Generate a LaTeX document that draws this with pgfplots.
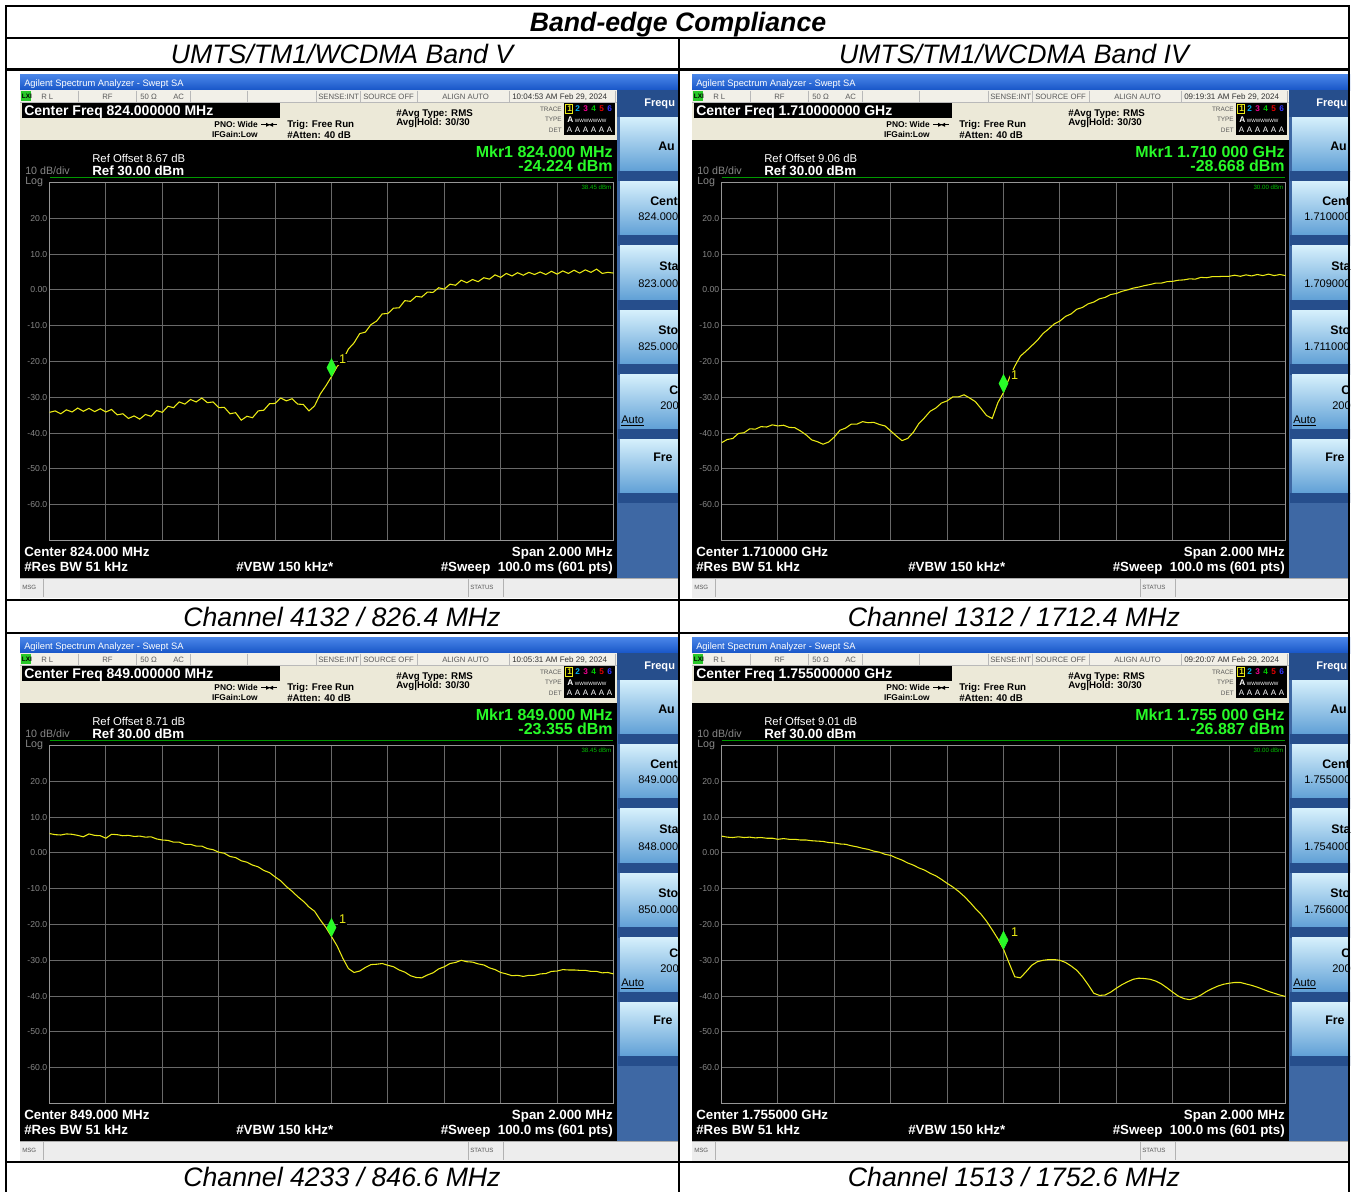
\documentclass[border=0pt]{standalone}
\usepackage{pgfplots}
\pgfplotsset{compat=1.18}
\usepackage{fontspec}
\setmainfont{Liberation Sans}

\definecolor{tbA}{RGB}{74,134,232}
\definecolor{tbB}{RGB}{24,86,200}
\definecolor{beige}{RGB}{236,233,216}
\definecolor{stat}{RGB}{242,240,232}
\definecolor{stxt}{RGB}{90,90,90}
\definecolor{lxi}{RGB}{40,200,40}
\definecolor{skdark}{RGB}{38,78,140}
\definecolor{skmid}{RGB}{62,104,164}
\definecolor{skA}{RGB}{214,240,252}
\definecolor{skB}{RGB}{150,206,238}
\definecolor{skC}{RGB}{96,160,214}
\definecolor{mgreen}{RGB}{40,250,40}
\definecolor{trc}{RGB}{235,235,20}
\definecolor{grd}{RGB}{105,105,105}
\definecolor{grdb}{RGB}{150,150,150}
\definecolor{lbl}{RGB}{135,135,135}

\newcommand\fz[1]{\fontsize{#1}{#1}\selectfont}

% marker diamond, bottom tip on the point
\pgfdeclareplotmark{mkr}{%
  \pgfpathmoveto{\pgfqpoint{0pt}{0pt}}%
  \pgfpathlineto{\pgfqpoint{3.4pt}{6.75pt}}%
  \pgfpathlineto{\pgfqpoint{0pt}{13.5pt}}%
  \pgfpathlineto{\pgfqpoint{-3.4pt}{6.75pt}}%
  \pgfpathclose\pgfusepathqfillstroke}

\tikzset{txt/.style={anchor=base west, inner sep=0pt},
         txr/.style={anchor=base east, inner sep=0pt}}

\pgfplotsset{scr/.style={anchor=north west, scale only axis,
    width=423pt, height=268.5pt,
    xmin=0, xmax=10, ymin=-70, ymax=30,
    xtick={0,1,...,10}, ytick={-60,-50,...,20},
    xticklabels={,,,,,,,,,,},
    yticklabels={-60.0,-50.0,-40.0,-30.0,-20.0,-10.0,0.00,10.0,20.0},
    major tick length=0pt, grid=major,
    major grid style={grd, line width=0.7pt},
    axis line style={grdb, line width=1.4pt},
    yticklabel style={font=\fz{6.5}, text=lbl, inner sep=0pt, xshift=-1.5pt},
  },
  trace/.style={trc, line width=0.8pt, mark=none},
  marker/.style={only marks, mark=mkr, mgreen, nodes near coords={1},
    every node near coord/.append style={anchor=base west, text=trc,
      font=\fz{9.5}, inner sep=0.6pt, fill=black, xshift=5pt, yshift=9.5pt}},
}

% screen furniture of one analyser screenshot, offset (#1,#2) px
\newcommand\chrome[2]{%
\begin{scope}[shift={(#1,-#2)}]
\begin{scope}
\clip (20,-74.5) rectangle (678,-597.5);
\shade[top color=tbA, bottom color=tbB] (20,-74.5) rectangle (678,-90);
\node[txt, text=white, font=\fz{7}] at (24,-86) {Agilent Spectrum Analyzer - Swept SA};
\fill[beige] (20,-90) rectangle (617,-140);
\fill[stat] (20,-90) rectangle (617,-102);
\foreach \s in {78,136.6,190.8,247,316.6,360,417,509.5,615.8}
  {\draw[gray!55, line width=0.6] (\s,-90.5) -- (\s,-102);}
\draw[gray!55, line width=0.6] (20,-102) -- (617,-102);
\fill[lxi] (21,-90.5) rectangle (31,-101);
\node[txt, font=\bfseries\fz{4.8}] at (21.6,-98.6) {LXI};
\begin{scope}[every node/.style={txt, text=stxt, font=\fz{5.8}}]
\node at (41,-99) {R L};
\node at (102,-99) {RF};
\node at (140,-99) {50 Ω};
\node at (173,-99) {AC};
\node at (318,-99) {SENSE:INT};
\node at (363,-99) {SOURCE OFF};
\node at (442,-99) {ALIGN AUTO};
\node[text=black!80, font=\fz{6}] at (512,-99) {\kTM};
\end{scope}
\fill[black] (22,-103) rectangle (280,-117.5);
\node[txt, text=white, font=\bfseries\fz{10.5}] at (24,-115.5) {Center Freq \kCF};
\begin{scope}[every node/.style={font=\bfseries\fz{6.3}, inner sep=0pt}]
\node[txr] at (258,-127.5) {PNO: Wide};
\node[txr] at (258,-137.5) {IFGain:Low};
\end{scope}
\draw[line width=0.6] (261,-124.8) -- (277,-124.8);
\fill (266,-122.8) -- (270,-124.8) -- (266,-126.8) -- cycle;
\fill (273,-122.8) -- (269,-124.8) -- (273,-126.8) -- cycle;
\begin{scope}[every node/.style={txt, font=\bfseries\fz{7.3}}]
\node at (287,-127.5) {Trig: Free Run};
\node at (287,-138) {\#Atten: 40 dB};
\node at (396,-116) {\#Avg Type: RMS};
\node at (396,-125.5) {Avg|Hold: 30/30};
\end{scope}
\begin{scope}[every node/.style={txr, text=stxt, font=\fz{4.8}}]
\node at (562,-111) {TRACE};
\node at (562,-121.5) {TYPE};
\node at (562,-132) {DET};
\end{scope}
\fill[black] (564,-103) rectangle (615,-135);
\draw[trc, line width=0.5] (565.5,-104) rectangle (572.5,-113);
\begin{scope}[every node/.style={txt, font=\bfseries\fz{6.2}}]
\node[text=trc] at (567,-111.5) {1};
\node[text=cyan] at (575,-111.5) {2};
\node[text=magenta] at (583,-111.5) {3};
\node[text=green!80!black] at (591,-111.5) {4};
\node[text=red!90!black] at (599,-111.5) {5};
\node[text=blue!80!white] at (607,-111.5) {6};
\node[text=white] at (567,-122) {A};
\node[text=white, font=\fz{3.6}] at (574.5,-122) {WWWWWWW};
\end{scope}
\foreach \a in {0,...,5}
  {\node[txt, text=white, font=\fz{6}] at ({566.5+8*\a},-132.5) {A};}
\fill[black] (20,-140) rectangle (617,-578);
\node[txt, text=white, font=\fz{8.5}] at (92,-162.5) {Ref Offset \kRO\ dB};
\node[txt, text=lbl, font=\fz{8}] at (25,-174.5) {10 dB/div};
\node[txt, text=white, font=\bfseries\fz{10}] at (92,-175.5) {Ref 30.00 dBm};
\node[txt, text=lbl, font=\fz{8}] at (25,-184.5) {Log};
\draw[green!60!black, line width=1.2] (49.5,-177.3) -- (613.4,-177.3);
\node[txr, text=mgreen, font=\bfseries\fz{12}] at (613,-157) {Mkr1 \kMF};
\node[txr, text=mgreen, font=\bfseries\fz{12}] at (613,-171.5) {\kMV\ dBm};
\node[txr, text=green!75!black, font=\fz{4.6}] at (611.5,-189) {\kDL};
\begin{scope}[every node/.style={font=\bfseries\fz{10}, text=white, inner sep=0pt}]
\node[txt] at (24,-556.5) {Center \kBC};
\node[txt] at (24,-571) {\#Res BW 51 kHz};
\node[txt] at (236,-571) {\#VBW 150 kHz*};
\node[txr] at (613,-556.5) {Span 2.000 MHz};
\node[txr] at (613,-571) {\#Sweep\ \ 100.0 ms (601 pts)};
\end{scope}
% softkeys (only their visible left parts show in the screenshot)
\fill[skmid] (617,-90) rectangle (678,-578);
\fill[skdark] (617,-90) rectangle (678,-117);
\foreach \i in {0,...,5}{%
  \shade[top color=skA, middle color=skB, bottom color=skC]
     (620,{-117-64.4*\i}) rectangle (720,{-171-64.4*\i});
  \fill[skdark] (618,{-171-64.4*\i}) rectangle (720,{-181.4-64.4*\i});
}
\node[txt, text=white, font=\bfseries\fz{8.3}] at (644,-106) {Frequ};
\begin{scope}[every node/.style={txt, font=\bfseries\fz{9.3}}]
\node at (658,-150) {Au};
\node at (650,-205.5) {Cent};
\node at (659,-270.5) {Sta};
\node at (658,-334) {Sto};
\node at (669,-394) {C};
\node at (653,-461) {Fre};
\end{scope}
\begin{scope}[every node/.style={txt, font=\fz{8.3}}]
\node at (\kSX,-220) {\kSC};
\node at (\kSX,-287) {\kSS};
\node at (\kSX,-350) {\kSP};
\node at (660,-409) {200};
\node at (621,-423) {\underline{Auto}};
\end{scope}
% message bar
\fill[gray!14] (20,-578) rectangle (678,-597.5);
\draw[gray!65, line width=0.8] (20,-578.5) -- (678,-578.5);
\foreach \s in {43,468,503}{\draw[gray!60, line width=0.6] (\s,-579) -- (\s,-597);}
\node[txt, text=stxt, font=\fz{4.6}] at (22,-589.5) {MSG};
\node[txt, text=stxt, font=\fz{4.6}] at (470,-589.5) {STATUS};
\end{scope}
\end{scope}}

\begin{document}
\begin{tikzpicture}[x=0.75pt, y=0.75pt]
\clip (0,0) rectangle (1354,-1192);
\fill[white] (0,0) rectangle (1354,-1192);
\coordinate (g1) at (49.5,-182.5);
\coordinate (g2) at (721.5,-182.5);
\coordinate (g3) at (49.5,-745.5);
\coordinate (g4) at (721.5,-745.5);

% ---------- Band V, channel 4132 ----------
\def\kCF{824.000000 MHz}\def\kTM{10:04:53 AM Feb 29, 2024}\def\kRO{8.67}
\def\kMF{824.000 MHz}\def\kMV{-24.224}\def\kDL{38.45 dBm}
\def\kSC{824.000}\def\kSS{823.000}\def\kSP{825.000}
\def\kBC{824.000 MHz}\def\kSX{638}
\chrome{0}{0}
\begin{axis}[scr, at={(g1)}]
\addplot[trace] coordinates {
(0,-34.2)(0.1,-33.8)(0.2,-34.6)(0.3,-33.5)(0.4,-34.1)(0.5,-33.0)(0.6,-33.9)(0.7,-33.1)(0.8,-34.0)(0.9,-33.2)
(1,-34.1)(1.1,-33.4)(1.2,-34.9)(1.3,-34.6)(1.4,-35.9)(1.5,-35.2)(1.6,-36.1)(1.7,-34.8)(1.8,-35.3)(1.9,-33.7)
(2,-34.2)(2.1,-32.5)(2.2,-32.9)(2.3,-31.3)(2.4,-31.9)(2.5,-30.6)(2.6,-31.3)(2.7,-30.2)(2.8,-31.5)(2.9,-31.3)
(3,-32.9)(3.1,-32.8)(3.2,-34.6)(3.3,-34.3)(3.4,-36.4)(3.5,-35.3)(3.6,-35.7)(3.7,-33.8)(3.8,-33.6)(3.9,-31.8)
(4,-31.7)(4.1,-30.2)(4.2,-31.0)(4.3,-30.4)(4.4,-31.9)(4.5,-32.0)(4.6,-33.8)(4.7,-32.4)(4.8,-29.1)(4.9,-26.8)
(5,-24.224)(5.1,-21.4)(5.2,-19.7)(5.3,-16.5)(5.4,-14.8)(5.5,-12.2)(5.6,-11.8)(5.7,-9.7)(5.8,-8.7)(5.9,-6.7)
(6,-6.6)(6.1,-5.1)(6.2,-5.0)(6.3,-3.0)(6.4,-3.2)(6.5,-1.8)(6.6,-2.0)(6.7,-0.6)(6.8,-0.7)(6.9,0.6)
(7,0.2)(7.1,1.6)(7.2,1.3)(7.3,2.7)(7.4,2.0)(7.5,2.9)(7.6,2.3)(7.7,3.4)(7.8,3.0)(7.9,4.2)
(8,3.5)(8.1,4.6)(8.2,3.9)(8.3,4.8)(8.4,4.1)(8.5,4.9)(8.6,4.3)(8.7,5.0)(8.8,4.3)(8.9,5.2)
(9,4.4)(9.1,5.3)(9.2,4.6)(9.3,5.5)(9.4,4.7)(9.5,5.6)(9.6,4.9)(9.7,5.8)(9.8,4.6)(9.9,4.9)(10,4.7)};
\addplot[marker] coordinates {(5,-24.224)};
\end{axis}

% ---------- Band IV, channel 1312 ----------
\def\kCF{1.710000000 GHz}\def\kTM{09:19:31 AM Feb 29, 2024}\def\kRO{9.06}
\def\kMF{1.710 000 GHz}\def\kMV{-28.668}\def\kDL{30.00 dBm}
\def\kSC{1.710000}\def\kSS{1.709000}\def\kSP{1.711000}
\def\kBC{1.710000 GHz}\def\kSX{632}
\chrome{672}{0}
\begin{axis}[scr, at={(g2)}]
\addplot[trace] coordinates {
(0,-42.7)(0.1,-41.8)(0.2,-41.5)(0.3,-40.1)(0.4,-39.9)(0.5,-38.8)(0.6,-38.9)(0.7,-38.2)(0.8,-38.3)(0.9,-37.7)
(1,-38.0)(1.1,-37.8)(1.2,-38.4)(1.3,-38.5)(1.4,-39.4)(1.5,-40.5)(1.6,-41.9)(1.7,-42.4)(1.8,-43.1)(1.9,-42.5)
(2,-41.1)(2.1,-39.2)(2.2,-38.6)(2.3,-37.5)(2.4,-37.5)(2.5,-36.8)(2.6,-37.1)(2.7,-37.0)(2.8,-37.6)(2.9,-38.0)
(3,-39.4)(3.1,-40.8)(3.2,-42.1)(3.3,-41.5)(3.4,-39.8)(3.5,-37.3)(3.6,-35.7)(3.7,-33.9)(3.8,-33.0)(3.9,-31.6)
(4,-31.0)(4.1,-29.9)(4.2,-29.9)(4.3,-29.3)(4.4,-30.2)(4.5,-31.2)(4.6,-33.1)(4.7,-35.1)(4.8,-35.9)(4.9,-31.5)
(5,-28.668)(5.1,-24.7)(5.2,-21.3)(5.3,-18.5)(5.4,-17.1)(5.5,-15.6)(5.6,-14.1)(5.7,-12.2)(5.8,-10.9)(5.9,-9.5)
(6,-8.7)(6.1,-7.4)(6.2,-6.7)(6.3,-5.4)(6.4,-4.9)(6.5,-3.9)(6.6,-3.4)(6.7,-2.5)(6.8,-2.1)(6.9,-1.3)
(7,-1.0)(7.1,-0.4)(7.2,0.0)(7.3,0.5)(7.4,0.8)(7.5,1.2)(7.6,1.5)(7.7,1.9)(7.8,1.9)(7.9,2.3)
(8,2.4)(8.1,2.7)(8.2,2.8)(8.3,3.1)(8.4,3.0)(8.5,3.5)(8.6,3.4)(8.7,3.7)(8.8,3.7)(8.9,3.8)
(9,3.8)(9.1,4.1)(9.2,3.8)(9.3,4.2)(9.4,3.9)(9.5,4.3)(9.6,4.0)(9.7,4.4)(9.8,4.0)(9.9,4.3)(10,4.0)};
\addplot[marker] coordinates {(5,-28.668)};
\end{axis}

% ---------- Band V, channel 4233 ----------
\def\kCF{849.000000 MHz}\def\kTM{10:05:31 AM Feb 29, 2024}\def\kRO{8.71}
\def\kMF{849.000 MHz}\def\kMV{-23.355}\def\kDL{38.45 dBm}
\def\kSC{849.000}\def\kSS{848.000}\def\kSP{850.000}
\def\kBC{849.000 MHz}\def\kSX{638}
\chrome{0}{563}
\begin{axis}[scr, at={(g3)}]
\addplot[trace] coordinates {
(0,5.4)(0.1,5.1)(0.2,5.0)(0.3,5.3)(0.4,5.2)(0.5,4.9)(0.6,4.5)(0.7,5.3)(0.8,4.9)(0.9,4.8)
(1,4.1)(1.1,5.2)(1.2,5.1)(1.3,4.8)(1.4,4.9)(1.5,4.6)(1.6,4.7)(1.7,4.4)(1.8,4.5)(1.9,3.9)
(2,3.6)(2.1,3.5)(2.2,3.0)(2.3,3.0)(2.4,2.4)(2.5,2.4)(2.6,1.9)(2.7,1.9)(2.8,1.2)(2.9,0.9)
(3,0.2)(3.1,-0.1)(3.2,-1.0)(3.3,-1.3)(3.4,-2.2)(3.5,-2.6)(3.6,-3.4)(3.7,-3.9)(3.8,-4.9)(3.9,-5.5)
(4,-6.7)(4.1,-7.8)(4.2,-9.4)(4.3,-10.7)(4.4,-12.2)(4.5,-13.5)(4.6,-15.1)(4.7,-16.3)(4.8,-18.7)(4.9,-20.8)
(5,-23.355)(5.1,-26.0)(5.2,-29.4)(5.3,-32.3)(5.4,-33.4)(5.5,-33.0)(5.6,-32.0)(5.7,-31.2)(5.8,-31.1)(5.9,-30.9)
(6,-31.4)(6.1,-31.8)(6.2,-32.7)(6.3,-33.3)(6.4,-34.3)(6.5,-34.8)(6.6,-34.9)(6.7,-34.1)(6.8,-33.5)(6.9,-32.4)
(7,-31.8)(7.1,-30.9)(7.2,-30.6)(7.3,-30.0)(7.4,-30.4)(7.5,-30.5)(7.6,-31.0)(7.7,-31.3)(7.8,-32.1)(7.9,-32.6)
(8,-33.4)(8.1,-33.8)(8.2,-34.3)(8.3,-34.2)(8.4,-34.5)(8.5,-34.2)(8.6,-34.2)(8.7,-33.8)(8.8,-33.7)(8.9,-33.1)
(9,-33.0)(9.1,-32.6)(9.2,-32.7)(9.3,-32.7)(9.4,-32.8)(9.5,-32.8)(9.6,-33.1)(9.7,-33.1)(9.8,-33.5)(9.9,-33.4)(10,-33.8)};
\addplot[marker] coordinates {(5,-23.355)};
\end{axis}

% ---------- Band IV, channel 1513 ----------
\def\kCF{1.755000000 GHz}\def\kTM{09:20:07 AM Feb 29, 2024}\def\kRO{9.01}
\def\kMF{1.755 000 GHz}\def\kMV{-26.887}\def\kDL{30.00 dBm}
\def\kSC{1.755000}\def\kSS{1.754000}\def\kSP{1.756000}
\def\kBC{1.755000 GHz}\def\kSX{632}
\chrome{672}{563}
\begin{axis}[scr, at={(g4)}]
\addplot[trace] coordinates {
(0,4.7)(0.1,4.4)(0.2,4.3)(0.3,4.5)(0.4,4.3)(0.5,4.4)(0.6,4.2)(0.7,4.3)(0.8,4.1)(0.9,4.1)
(1,3.8)(1.1,4.0)(1.2,3.8)(1.3,3.8)(1.4,3.6)(1.5,3.6)(1.6,3.4)(1.7,3.3)(1.8,3.2)(1.9,2.9)
(2,2.8)(2.1,2.5)(2.2,2.4)(2.3,2.0)(2.4,1.7)(2.5,1.3)(2.6,1.0)(2.7,0.5)(2.8,0.2)(2.9,-0.4)
(3,-0.7)(3.1,-1.4)(3.2,-2.0)(3.3,-2.8)(3.4,-3.4)(3.5,-4.2)(3.6,-4.8)(3.7,-5.7)(3.8,-6.4)(3.9,-7.4)
(4,-8.5)(4.1,-9.5)(4.2,-10.7)(4.3,-12.1)(4.4,-13.7)(4.5,-15.5)(4.6,-17.1)(4.7,-19.1)(4.8,-21.5)(4.9,-24.0)
(5,-26.887)(5.1,-30.8)(5.2,-34.6)(5.3,-34.9)(5.4,-33.2)(5.5,-31.4)(5.6,-30.4)(5.7,-30.0)(5.8,-29.8)(5.9,-29.8)
(6,-30.0)(6.1,-30.6)(6.2,-31.6)(6.3,-32.8)(6.4,-34.6)(6.5,-36.8)(6.6,-39.2)(6.7,-39.8)(6.8,-39.7)(6.9,-38.9)
(7,-37.8)(7.1,-36.8)(7.2,-36.0)(7.3,-35.3)(7.4,-35.0)(7.5,-35.1)(7.6,-35.3)(7.7,-35.8)(7.8,-36.6)(7.9,-37.7)
(8,-38.9)(8.1,-40.0)(8.2,-40.7)(8.3,-41.0)(8.4,-40.5)(8.5,-39.7)(8.6,-38.7)(8.7,-37.9)(8.8,-37.2)(8.9,-36.7)
(9,-36.4)(9.1,-36.2)(9.2,-36.2)(9.3,-36.6)(9.4,-37.0)(9.5,-37.5)(9.6,-38.1)(9.7,-38.7)(9.8,-39.2)(9.9,-39.7)(10,-40.1)};
\addplot[marker] coordinates {(5,-26.887)};
\end{axis}

% ---------- table frame and captions ----------
\draw[line width=2] (5,-6) -- (1350,-6);
\draw[line width=1.5] (6,-37.5) -- (1349,-37.5);
\draw[line width=2.5] (6,-69.5) -- (1349,-69.5);
\draw[line width=1.5] (6,-599.5) -- (1349,-599.5);
\draw[line width=1.5] (6,-633) -- (1349,-633);
\draw[line width=1.5] (6,-1161.5) -- (1349,-1161.5);
\draw[line width=2] (6,-5) -- (6,-1192);
\draw[line width=2] (1349,-5) -- (1349,-1192);
\draw[line width=1.5] (678.5,-37.5) -- (678.5,-1192);
\begin{scope}[every node/.style={anchor=base, inner sep=0pt, font=\itshape\fz{20}}]
\node[font=\bfseries\itshape\fz{20}] at (678,-31.5) {Band-edge Compliance};
\node at (342,-63.5) {UMTS/TM1/WCDMA Band V};
\node at (1014,-63.5) {UMTS/TM1/WCDMA Band IV};
\node at (342,-626.5) {Channel 4132 / 826.4 MHz};
\node at (1014,-626.5) {Channel 1312 / 1712.4 MHz};
\node at (342,-1186.5) {Channel 4233 / 846.6 MHz};
\node at (1014,-1186.5) {Channel 1513 / 1752.6 MHz};
\end{scope}
\end{tikzpicture}
\end{document}
